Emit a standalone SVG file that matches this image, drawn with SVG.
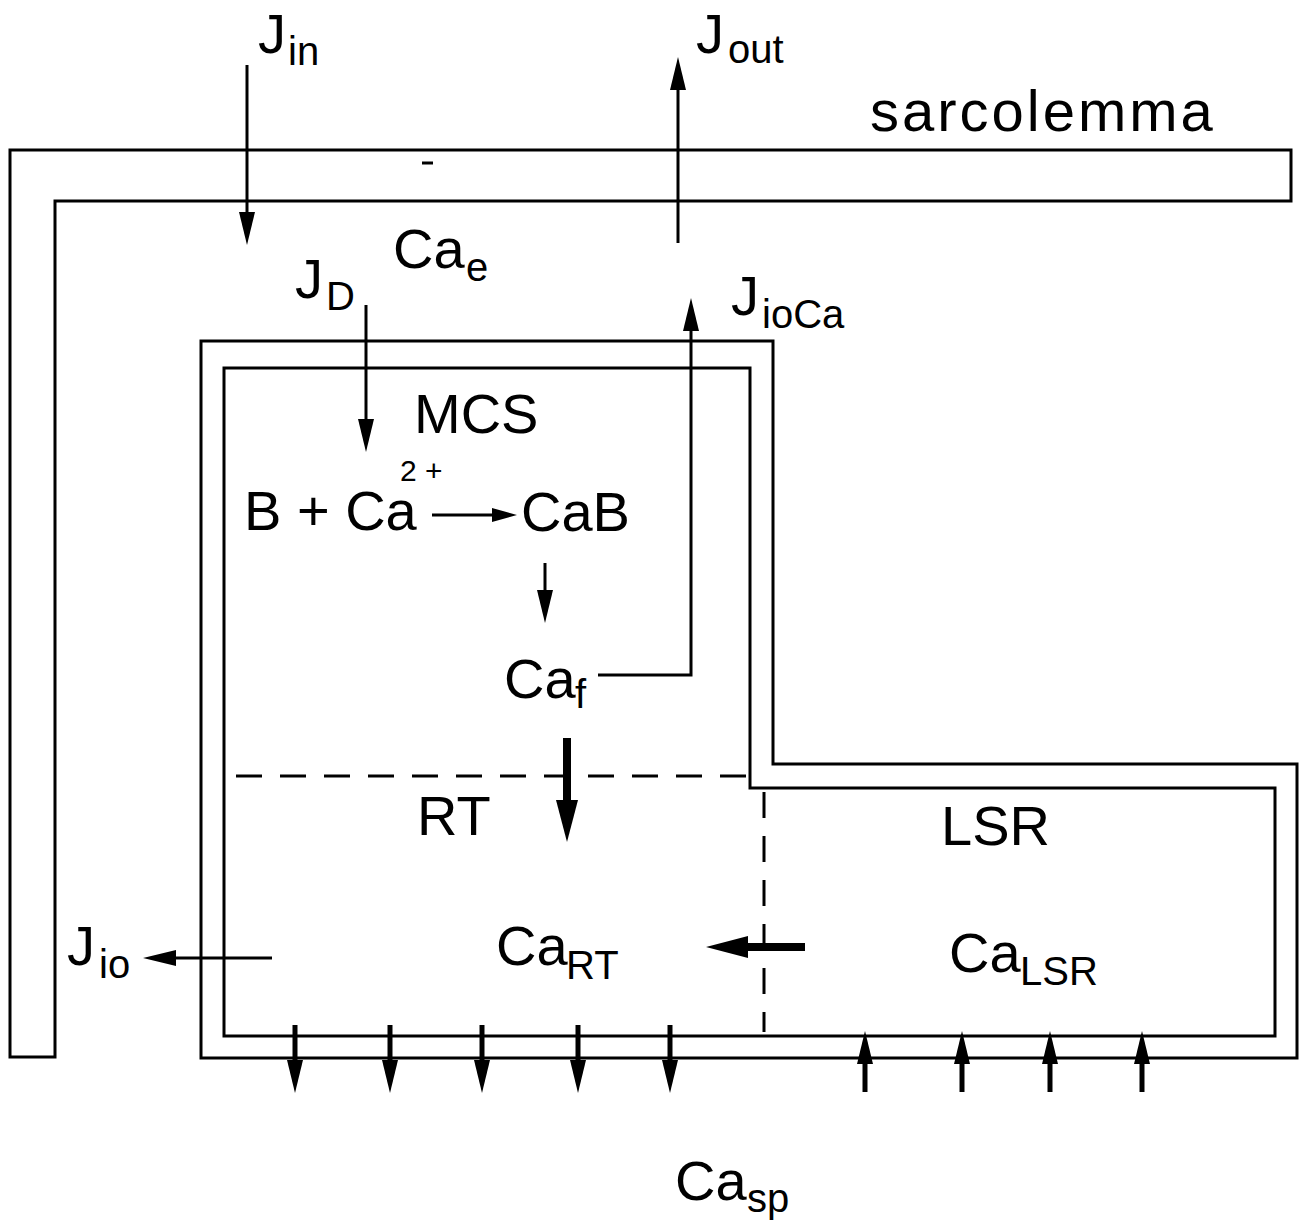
<svg xmlns="http://www.w3.org/2000/svg" width="1304" height="1222" viewBox="0 0 1304 1222">
<style>
.t{font-family:"Liberation Sans",Arial,sans-serif;font-size:56px;fill:#000}
.s{font-size:40px}
.sup{font-family:"Liberation Sans",Arial,sans-serif;font-size:30px;fill:#000}
.wall{fill:none;stroke:#000;stroke-width:3;stroke-linejoin:miter}
.a{fill:none;stroke:#000;stroke-width:3}
.ab{fill:none;stroke:#000;stroke-width:5}
.ak{fill:none;stroke:#000;stroke-width:8}
.d{fill:none;stroke:#000;stroke-width:3;stroke-dasharray:26 18}
</style>
<defs>
<marker id="ah" markerUnits="userSpaceOnUse" markerWidth="36" markerHeight="20" viewBox="0 -10 36 20" refX="0" refY="0" orient="auto"><path d="M0,-8 L33,0 L0,8 Z"/></marker>
<marker id="ahs" markerUnits="userSpaceOnUse" markerWidth="28" markerHeight="16" viewBox="0 -8 28 16" refX="0" refY="0" orient="auto"><path d="M0,-7 L25,0 L0,7 Z"/></marker>
<marker id="ahk" markerUnits="userSpaceOnUse" markerWidth="46" markerHeight="26" viewBox="0 -13 46 26" refX="0" refY="0" orient="auto"><path d="M0,-11 L42,0 L0,11 Z"/></marker>
</defs>

<g id="sarcolemma">
<path class="wall" d="M10,150 H1291 V201 H55 V1057 H10 Z"/>
<line x1="422" y1="163" x2="433" y2="163" stroke="#000" stroke-width="3"/>
<text class="t" x="870" y="131" style="font-size:58px;letter-spacing:3px">sarcolemma</text>
</g>

<g id="compartment">
<path class="wall" d="M201,341 H773 V764 H1297 V1058 H201 Z"/>
<path class="wall" d="M224,368 H750 V788 H1275 V1036 H224 Z"/>
<line class="d" x1="236" y1="776" x2="750" y2="776"/>
<line class="d" x1="764" y1="792" x2="764" y2="1032"/>
</g>

<g id="labels">
<text class="t" x="258" y="53">J<tspan class="s" x="288" y="65">in</tspan></text>
<text class="t" x="696" y="53">J<tspan class="s" x="728" y="63">out</tspan></text>
<text class="t" x="393" y="268">Ca<tspan class="s" x="466" y="281">e</tspan></text>
<text class="t" x="295" y="298">J<tspan class="s" x="326" y="310">D</tspan></text>
<text class="t" x="731" y="315">J<tspan class="s" x="762" y="328">ioCa</tspan></text>
<text class="t" x="414" y="433">MCS</text>
<text class="t" x="244" y="530">B + Ca</text>
<text class="sup" x="400" y="481">2</text>
<text class="sup" x="425" y="481">+</text>
<text class="t" x="521" y="531">CaB</text>
<text class="t" x="504" y="698">Ca<tspan class="s" x="575" y="708">f</tspan></text>
<text class="t" x="417" y="835">RT</text>
<text class="t" x="941" y="845">LSR</text>
<text class="t" x="496" y="965">Ca<tspan class="s" x="566" y="979">RT</tspan></text>
<text class="t" x="949" y="972">Ca<tspan class="s" x="1020" y="985">LSR</tspan></text>
<text class="t" x="67" y="965">J<tspan class="s" x="99" y="978">io</tspan></text>
<text class="t" x="675" y="1200">Ca<tspan class="s" x="747" y="1212">sp</tspan></text>
</g>

<g id="connectors">
<line class="a" x1="247" y1="65" x2="247" y2="212" marker-end="url(#ah)"/>
<line class="a" x1="678" y1="243" x2="678" y2="90" marker-end="url(#ah)"/>
<line class="a" x1="366" y1="305" x2="366" y2="419" marker-end="url(#ah)"/>
<path class="a" d="M598,675 H691 V331" marker-end="url(#ah)"/>
<line class="a" x1="432" y1="515" x2="492" y2="515" marker-end="url(#ahs)"/>
<line class="a" x1="545" y1="563" x2="545" y2="590" marker-end="url(#ah)"/>
<line class="ak" x1="567" y1="738" x2="567" y2="800" marker-end="url(#ahk)"/>
<line class="ak" x1="805" y1="947" x2="748" y2="947" marker-end="url(#ahk)"/>
<line class="a" x1="272" y1="958" x2="176" y2="958" marker-end="url(#ah)"/>
<line class="ab" x1="295" y1="1025" x2="295" y2="1060" marker-end="url(#ah)"/>
<line class="ab" x1="390" y1="1025" x2="390" y2="1060" marker-end="url(#ah)"/>
<line class="ab" x1="482" y1="1025" x2="482" y2="1060" marker-end="url(#ah)"/>
<line class="ab" x1="578" y1="1025" x2="578" y2="1060" marker-end="url(#ah)"/>
<line class="ab" x1="670" y1="1025" x2="670" y2="1060" marker-end="url(#ah)"/>
<line class="ab" x1="865" y1="1092" x2="865" y2="1064" marker-end="url(#ah)"/>
<line class="ab" x1="962" y1="1092" x2="962" y2="1064" marker-end="url(#ah)"/>
<line class="ab" x1="1050" y1="1092" x2="1050" y2="1064" marker-end="url(#ah)"/>
<line class="ab" x1="1142" y1="1092" x2="1142" y2="1064" marker-end="url(#ah)"/>
</g>
</svg>
